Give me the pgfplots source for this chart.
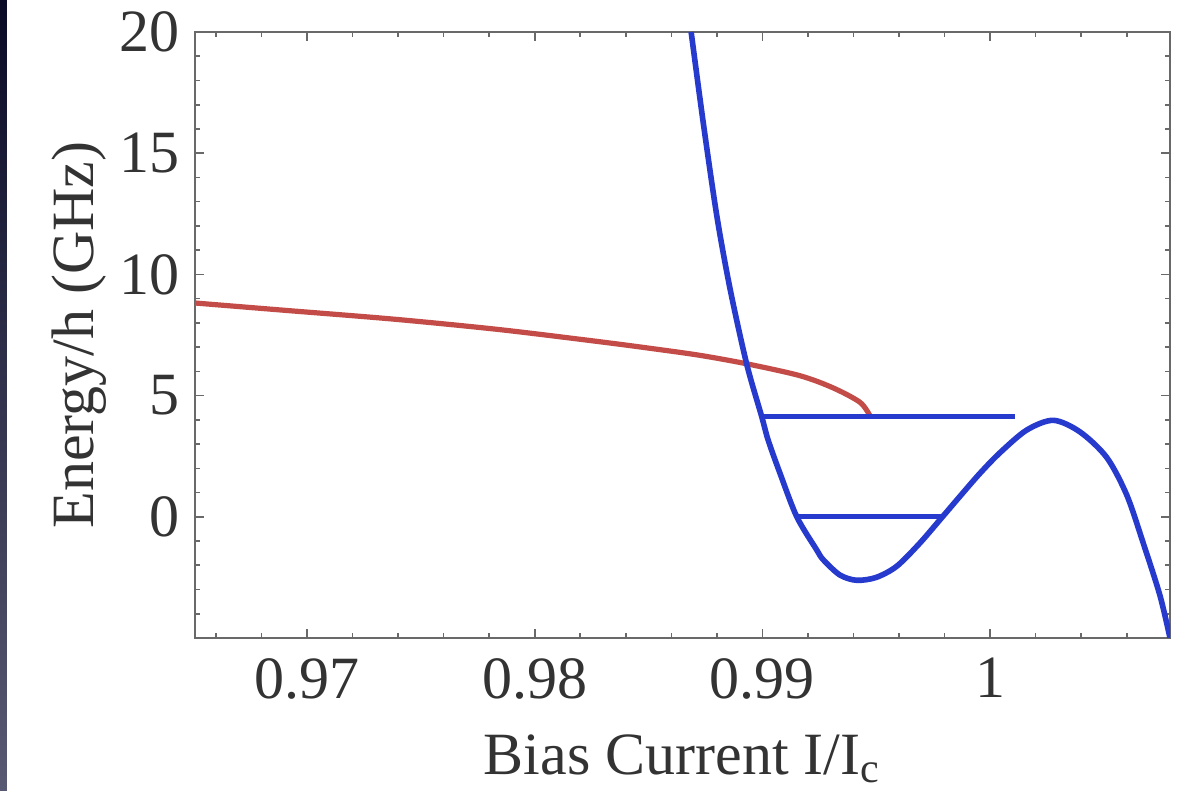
\documentclass[border=0pt]{standalone}
\usepackage{fontspec}
\setmainfont{Liberation Serif}
\usepackage{pgfplots}
\pgfplotsset{compat=1.18}
\usetikzlibrary{shadings}
\definecolor{curveblue}{RGB}{38,58,205}
\definecolor{curvered}{RGB}{196,76,72}
\definecolor{axisgray}{RGB}{105,105,105}
\begin{document}
\begin{tikzpicture}
\useasboundingbox (-48.75pt,-38.25pt) rectangle (249pt,159.5pt);
\fill[white] (-48.75pt,-38.25pt) rectangle (249pt,159.5pt);
\shade[top color={rgb,255:red,10;green,10;blue,38}, bottom color={rgb,255:red,88;green,90;blue,115}] (-48.75pt,-38.25pt) rectangle (-47pt,159.5pt);
\begin{axis}[
  at={(0pt,0pt)}, anchor=south west,
  scale only axis,
  width=243.75pt, height=151.5pt,
  xmin=0.96508, xmax=1.0079,
  ymin=-5, ymax=20,
  xtick={0.97,0.98,0.99,1},
  xticklabels={0.97,0.98,0.99,1},
  ytick={0,5,10,15,20},
  yticklabels={0,5,10,15,20},
  minor xtick={0.966,0.968,0.972,0.974,0.976,0.978,0.982,0.984,0.986,0.988,0.992,0.994,0.996,0.998,1.002,1.004,1.006},
  minor ytick={-4,-3,-2,-1,1,2,3,4,6,7,8,9,11,12,13,14,16,17,18,19},
  tick align=inside,
  major tick length=2.2pt,
  minor tick length=1.2pt,
  every tick/.style={axisgray, line width=0.4pt},
  axis line style={axisgray, line width=0.55pt},
  tick label style={font=\fontsize{15}{18}\selectfont, text=black!80},
  xticklabel style={yshift=-1.5pt},
  yticklabel style={xshift=-0.3pt},
  label style={font=\fontsize{15}{18}\selectfont, text=black!80},
  xlabel={Bias Current I/I\textsubscript{c}},
  ylabel={Energy/h (GHz)},
  xlabel style={at={(axis description cs:0.5,-0.2245)}, anchor=base},
  ylabel style={at={(axis description cs:-0.1046,0.5)}, anchor=base, rotate=0},
  clip=true,
]
\addplot[curvered, line width=1.3pt, smooth, tension=0.5] coordinates {
  (0.96508, 8.82)
  (0.96900, 8.52)
  (0.97385, 8.15)
  (0.97848, 7.72)
  (0.98287, 7.22)
  (0.98507, 6.95)
  (0.98726, 6.66)
  (0.98937, 6.30)
  (0.99165, 5.82)
  (0.99310, 5.32)
  (0.99429, 4.72)
  (0.99473, 4.15)
};
\addplot[curveblue, line width=1.4pt, smooth, tension=0.5] coordinates {
  (0.98687, 20.0)
  (0.98741, 16.2)
  (0.98800, 12.4)
  (0.98858, 9.4)
  (0.98931, 6.3)
  (0.98997, 4.13)
  (0.99025, 3.17)
  (0.99077, 1.80)
  (0.99151, 0.0)
  (0.99238, -1.36)
  (0.99267, -1.77)
  (0.99340, -2.40)
  (0.99414, -2.62)
  (0.99500, -2.50)
  (0.99590, -2.04)
  (0.99690, -1.10)
  (0.99780, -0.12)
  (0.99868, 0.85)
  (0.99956, 1.80)
  (1.00044, 2.65)
  (1.00161, 3.58)
  (1.00278, 3.98)
  (1.00395, 3.50)
  (1.00512, 2.45)
  (1.00600, 0.90)
  (1.00673, -1.10)
  (1.00746, -3.25)
  (1.00790, -5.0)
};
\addplot[curveblue, line width=1.3pt] coordinates {(0.98997, 4.15) (1.00109, 4.15)};
\addplot[curveblue, line width=1.3pt] coordinates {(0.99151, 0) (0.99795, 0)};
\end{axis}
\end{tikzpicture}
\end{document}
